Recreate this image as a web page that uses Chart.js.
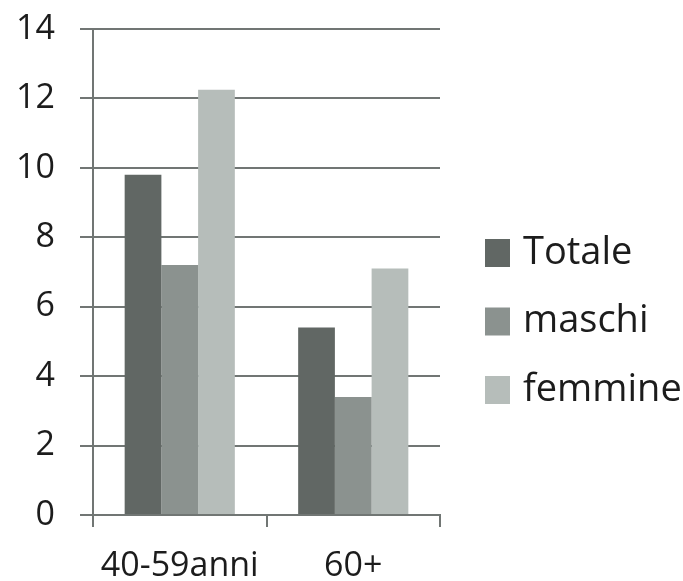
<!DOCTYPE html>
<html>
<head>
<meta charset="utf-8">
<script src="https://cdn.jsdelivr.net/npm/chart.js@4/dist/chart.umd.min.js"></script>
<style>
  html, body { margin: 0; padding: 0; background: #fff; }
  #wrap { width: 683px; height: 581px; }
</style>
</head>
<body>
<div id="wrap"><canvas id="ageChart"></canvas></div>
<script>
const ageGroups = ["40-59anni", "60+"];
const seriesNames = ["Totale", "maschi", "femmine"];
const totale = [9.8, 5.4];
const maschi = [7.2, 3.4];
const femmine = [12.25, 7.1];
const yTicks = [0, 2, 4, 6, 8, 10, 12, 14];

const barColors = ["#616764", "#8b928f", "#b6bdba"];
const lineColor = "#717674";
const textColor = "#1c1c1c";
const font = "'Open Sans', sans-serif";

// legend to the right of the plot, one row per dataset
const sideLegend = {
  id: "sideLegend",
  afterDraw(chart) {
    const ctx = chart.ctx;
    const x = chart.chartArea.right + 45;
    const rowGap = 68.5;
    const firstY = 253;
    ctx.save();
    ctx.font = "38px " + font;
    ctx.textBaseline = "middle";
    chart.data.datasets.forEach((ds, i) => {
      const cy = firstY + i * rowGap;
      ctx.fillStyle = ds.backgroundColor;
      ctx.fillRect(x, cy - 14, 25, 28);
      ctx.fillStyle = textColor;
      ctx.fillText(ds.label, x + 38, cy);
    });
    ctx.restore();
  }
};

const context = document.getElementById("ageChart").getContext("2d");
new Chart(context, {
  type: "bar",
  data: {
    labels: ageGroups,
    datasets: [totale, maschi, femmine].map((values, i) => ({
      label: seriesNames[i],
      data: values,
      backgroundColor: barColors[i],
      categoryPercentage: 0.635,
      barPercentage: 1.0
    }))
  },
  options: {
    responsive: true,
    maintainAspectRatio: false,
    animation: false,
    layout: { padding: { top: 29, right: 243, left: 14, bottom: 0 } },
    plugins: {
      tooltip: { enabled: false },
      legend: { display: false }
    },
    scales: {
      x: {
        grid: { drawOnChartArea: false, color: lineColor, lineWidth: 2, tickLength: 12 },
        border: { color: lineColor, width: 2 },
        ticks: {
          color: textColor, padding: 22, maxRotation: 0, minRotation: 0, autoSkip: false,
          font: { family: font, size: 34, lineHeight: 1 }
        },
        afterFit: (axis) => {
          axis.height = 66;
          axis.paddingLeft = 0;
          axis.paddingRight = 0;
        }
      },
      y: {
        min: 0,
        max: 14,
        afterBuildTicks: (axis) => { axis.ticks = yTicks.map((v) => ({ value: v })); },
        grid: { color: lineColor, lineWidth: 2, tickLength: 13 },
        border: { color: lineColor, width: 2 },
        ticks: { color: textColor, padding: 25, font: { family: font, size: 34, lineHeight: 1 } },
        afterFit: (axis) => {
          axis.width = 79;
          axis.paddingTop = 0;
          axis.paddingBottom = 0;
        }
      }
    }
  },
  plugins: [sideLegend]
});
</script>
</body>
</html>
